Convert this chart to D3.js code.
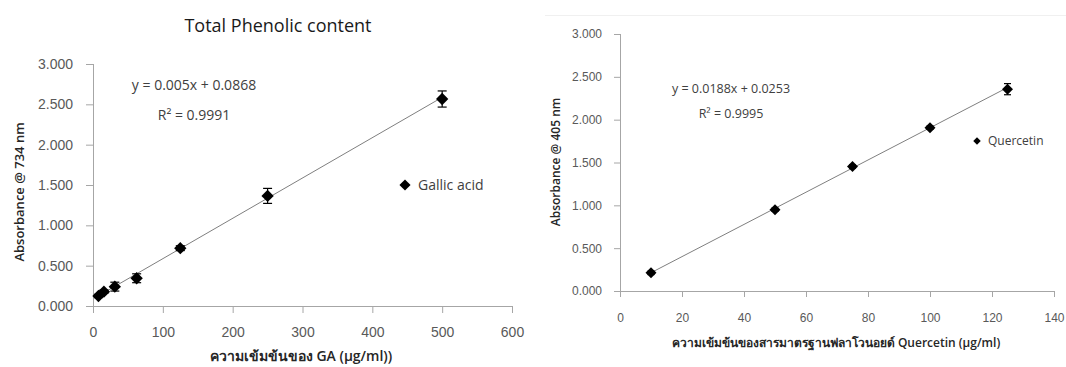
<!DOCTYPE html>
<html>
<head>
<meta charset="utf-8">
<script src="https://cdn.jsdelivr.net/npm/d3@7"></script>
<style>
  body { margin: 0; background: #fff; }
  svg { display: block; font-family: "Open Sans", "Noto Sans", "DejaVu Sans", sans-serif; }
</style>
</head>
<body>
<script>
// Gallic acid standard curve (Total Phenolic content)
var gaConc = [7.8125, 15.625, 31.25, 62.5, 125, 250, 500];
var gaAbs  = [0.124, 0.178, 0.240, 0.344, 0.717, 1.365, 2.566];
var gaErr  = [0.02, 0.02, 0.055, 0.055, 0.03, 0.093, 0.10];
var gaFit  = {slope: 0.005, intercept: 0.0868};

// Quercetin standard curve (flavonoid)
var qConc = [10, 50, 75, 100, 125];
var qAbs  = [0.212, 0.949, 1.453, 1.906, 2.356];
var qErr  = [0.02, 0.02, 0.02, 0.02, 0.065];
var qFit  = {slope: 0.0188, intercept: 0.0253};

var yTicks  = [0, 0.5, 1, 1.5, 2, 2.5, 3];
var gaTicks = [0, 100, 200, 300, 400, 500, 600];
var qTicks  = [0, 20, 40, 60, 80, 100, 120, 140];

var svg = d3.select("body").append("svg")
    .attr("width", 1066)
    .attr("height", 367);

// faint chart-area border of the right chart
svg.append("line")
  .attr("x1", 545).attr("x2", 1066).attr("y1", 15.5).attr("y2", 15.5)
  .attr("stroke", "#f0f0f0");

function drawChart(o) {
  var x = d3.scaleLinear().domain(o.xDomain).range([o.left, o.right]);
  var y = d3.scaleLinear().domain([0, 3]).range([o.bottom, o.top]);
  var g = svg.append("g");

  // axes
  var xAxis = d3.axisBottom(x).tickValues(o.xTicks).tickSize(o.tick).tickPadding(o.xPad).tickFormat(d3.format("d"));
  var yAxis = d3.axisLeft(y).tickValues(yTicks).tickSize(o.tick).tickPadding(o.yPad).tickFormat(d3.format(".3f"));

  var gx = g.append("g")
    .attr("transform", "translate(0," + o.bottom + ")")
    .call(xAxis);
  var gy = g.append("g")
    .attr("transform", "translate(" + o.left + ",0)")
    .call(yAxis);
  [gx, gy].forEach(function(a) {
    a.select(".domain").attr("stroke", "#a6a6a6");
    a.selectAll(".tick line").attr("stroke", "#a6a6a6");
    a.selectAll(".tick text")
      .attr("fill", "#595959")
      .style("font-size", o.tickFont + "px")
      .style("font-family", "inherit");
  });
  gy.select(".domain").attr("d", "M0.5," + o.bottom + "V" + o.top);
  gx.select(".domain").attr("d", "M" + o.left + ",0.5H" + o.right);

  // linear trendline
  var xs = d3.extent(o.conc);
  g.append("line")
    .attr("x1", x(xs[0])).attr("y1", y(o.fit.slope * xs[0] + o.fit.intercept))
    .attr("x2", x(xs[1])).attr("y2", y(o.fit.slope * xs[1] + o.fit.intercept))
    .attr("stroke", "#7f7f7f")
    .attr("stroke-width", 1);

  var pts = o.conc.map(function(c, i) { return {c: c, v: o.abs[i], e: o.err[i]}; });

  // error bars
  var eb = g.selectAll(".eb").data(pts).enter().append("g").attr("class", "eb")
    .attr("stroke", "#000").attr("stroke-width", 1.2);
  eb.append("line")
    .attr("x1", function(d) { return x(d.c); }).attr("x2", function(d) { return x(d.c); })
    .attr("y1", function(d) { return y(d.v + d.e); }).attr("y2", function(d) { return y(d.v - d.e); });
  eb.append("line")
    .attr("x1", function(d) { return x(d.c) - o.cap; }).attr("x2", function(d) { return x(d.c) + o.cap; })
    .attr("y1", function(d) { return y(d.v + d.e); }).attr("y2", function(d) { return y(d.v + d.e); });
  eb.append("line")
    .attr("x1", function(d) { return x(d.c) - o.cap; }).attr("x2", function(d) { return x(d.c) + o.cap; })
    .attr("y1", function(d) { return y(d.v - d.e); }).attr("y2", function(d) { return y(d.v - d.e); });

  // diamond markers
  var sym = d3.symbol().type(d3.symbolSquare).size(o.mark);
  g.selectAll(".pt").data(pts).enter().append("path")
    .attr("class", "pt")
    .attr("d", sym)
    .attr("fill", "#000")
    .attr("transform", function(d) { return "translate(" + x(d.c) + "," + y(d.v) + ") rotate(45)"; });

  // legend
  g.append("path")
    .attr("d", d3.symbol().type(d3.symbolSquare).size(o.legMark))
    .attr("fill", "#000")
    .attr("transform", "translate(" + o.legX + "," + o.legY + ") rotate(45)");
  g.append("text")
    .attr("x", o.legX + o.legGap).attr("y", o.legY).attr("dy", "0.35em")
    .attr("fill", "#404040")
    .style("font-size", o.legFont + "px")
    .text(o.legend);

  // equation + R²
  g.append("text")
    .attr("x", o.eqX).attr("y", o.eqY).attr("dy", "0.35em")
    .attr("text-anchor", "middle")
    .attr("fill", "#404040")
    .style("font-size", o.eqFont + "px")
    .text("y = " + o.fit.slope + "x + " + o.fit.intercept);
  g.append("text")
    .attr("x", o.eqX).attr("y", o.eqY + o.r2Gap).attr("dy", "0.35em")
    .attr("text-anchor", "middle")
    .attr("fill", "#404040")
    .style("font-size", o.eqFont + "px")
    .text("R² = " + o.r2);

  // axis titles
  g.append("text")
    .attr("transform", "translate(" + o.yLabX + "," + o.yLabY + ") rotate(-90)")
    .attr("text-anchor", "middle")
    .attr("dy", "0.35em")
    .attr("fill", "#262626")
    .style("font-size", o.labFont + "px")
    .style("font-weight", "600")
    .text(o.yLabel);
  g.append("text")
    .attr("x", o.xLabX).attr("y", o.xLabY)
    .attr("dy", "0.35em")
    .attr("text-anchor", "middle")
    .attr("fill", "#262626")
    .style("font-size", o.xLabFont + "px")
    .style("font-weight", "600")
    .text(o.xLabel);
}

drawChart({
  conc: gaConc, abs: gaAbs, err: gaErr, fit: gaFit, r2: "0.9991",
  xDomain: [0, 600], xTicks: gaTicks,
  left: 93, right: 512, top: 64, bottom: 306,
  tick: 7, xPad: 14, yPad: 13, tickFont: 14,
  cap: 4.5, mark: 76,
  legend: "Gallic acid", legX: 405, legY: 185, legMark: 62, legGap: 13, legFont: 14,
  eqX: 194, eqY: 85, r2Gap: 30, eqFont: 14,
  yLabel: "Absorbance @ 734 nm", yLabX: 19, yLabY: 192, labFont: 13,
  xLabel: "ความเข้มข้นของ GA (µg/ml))", xLabX: 301, xLabY: 356, xLabFont: 14
});

drawChart({
  conc: qConc, abs: qAbs, err: qErr, fit: qFit, r2: "0.9995",
  xDomain: [0, 140], xTicks: qTicks,
  left: 620, right: 1054, top: 34, bottom: 291,
  tick: 6, xPad: 16, yPad: 12, tickFont: 12,
  cap: 3.5, mark: 60,
  legend: "Quercetin", legX: 977, legY: 141, legMark: 28, legGap: 11, legFont: 12,
  eqX: 731, eqY: 89, r2Gap: 25, eqFont: 12.5,
  yLabel: "Absorbance @ 405 nm", yLabX: 556, yLabY: 162, labFont: 12,
  xLabel: "ความเข้มข้นของสารมาตรฐานฟลาโวนอยด์ Quercetin (µg/ml)", xLabX: 836, xLabY: 343, xLabFont: 12
});

// chart title
svg.append("text")
  .attr("x", 278).attr("y", 26).attr("dy", "0.35em")
  .attr("text-anchor", "middle")
  .attr("fill", "#1a1a1a")
  .style("font-size", "18px")
  .text("Total Phenolic content");
</script>
</body>
</html>
